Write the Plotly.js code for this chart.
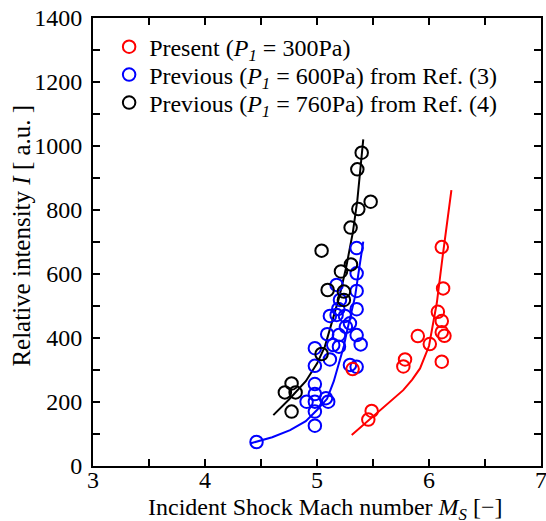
<!DOCTYPE html>
<html>
<head>
<meta charset="utf-8">
<script src="https://cdn.plot.ly/plotly-3.0.1.min.js"></script>
<style>html,body{margin:0;padding:0;background:#fff;}#chart{width:546px;height:521px;}</style>
</head>
<body>
<div id="chart"></div>
<script>
// Present (P1 = 300 Pa) — red
const redX = [6.079, 6.114, 5.900, 6.114, 6.138, 6.007, 5.786, 5.771, 6.114, 5.488, 5.458, 6.114, 6.126, 5.318];
const redY = [482, 453, 406, 418, 407, 381, 333, 311, 326, 172, 145, 684, 555, 303];
const redFitX = [5.31, 5.45, 5.60, 5.77, 5.85, 5.92, 6.00, 6.07, 6.12, 6.20];
const redFitY = [97, 140, 185, 237, 270, 305, 375, 510, 650, 862];

// Previous (P1 = 600 Pa) from Ref. (3) — blue
const blueX = [5.354, 5.175, 5.354, 5.354, 5.205, 5.190, 5.354, 5.115, 5.175, 5.250, 5.294, 5.258,
               5.091, 5.196, 5.354, 5.145, 5.196, 5.390, 4.981, 4.981, 5.115, 5.294, 5.354, 4.981,
               4.981, 4.907, 4.981, 5.100, 5.080, 4.981, 4.981, 4.460];
const blueY = [681, 566, 602, 547, 519, 491, 490, 469, 472, 469, 446, 435,
               412, 409, 409, 378, 373, 380, 368, 313, 333, 316, 310, 256,
               225, 201, 201, 201, 212, 170, 126, 75];
const blueFitX = [4.41, 4.60, 4.76, 4.90, 5.00, 5.09, 5.15, 5.20, 5.24, 5.27, 5.34, 5.38, 5.413];
const blueFitY = [71, 90, 112, 140, 175, 210, 265, 330, 375, 425, 530, 625, 701];

// Previous (P1 = 760 Pa) from Ref. (4) — black
const blackX = [5.399, 5.360, 5.479, 5.369, 5.300, 5.041, 5.303, 5.214, 5.095, 5.240, 5.240,
                5.041, 4.773, 4.713, 4.809, 4.773];
const blackY = [979, 927, 826, 803, 745, 673, 630, 608, 550, 545, 519,
                350, 258, 230, 230, 170];
const blackFitX = [4.61, 4.75, 4.90, 5.00, 5.07, 5.13, 5.20, 5.26, 5.32, 5.36, 5.39, 5.413];
const blackFitY = [159, 208, 265, 320, 373, 446, 530, 620, 730, 830, 930, 1021];

const xTicks = [3, 4, 5, 6, 7];
const yTicks = [0, 200, 400, 600, 800, 1000, 1200, 1400];

const legendNames = [
  'Present (<i>P<sub>1</sub></i> = 300Pa)',
  'Previous (<i>P<sub>1</sub></i> = 600Pa) from Ref. (3)',
  'Previous (<i>P<sub>1</sub></i> = 760Pa) from Ref. (4)'
];

const FONT = '"Liberation Serif"';
const mk = (c) => ({symbol: 'circle-open', size: 12.5, color: c, line: {color: c, width: 2}});

const traces = [
  {x: redFitX, y: redFitY, mode: 'lines', line: {color: '#ff0000', width: 2}, showlegend: false, hoverinfo: 'skip'},
  {x: blueFitX, y: blueFitY, mode: 'lines', line: {color: '#0000ff', width: 2}, showlegend: false, hoverinfo: 'skip'},
  {x: blackFitX, y: blackFitY, mode: 'lines', line: {color: '#000000', width: 2}, showlegend: false, hoverinfo: 'skip'},
  {x: blueX, y: blueY, mode: 'markers', marker: mk('#0000ff'), name: legendNames[1], legend: 'legend2'},
  {x: blackX, y: blackY, mode: 'markers', marker: mk('#000000'), name: legendNames[2], legend: 'legend3'},
  {x: redX, y: redY, mode: 'markers', marker: mk('#ff0000'), name: legendNames[0], legend: 'legend'}
];

const axisCommon = {
  showgrid: false, zeroline: false, showline: true, linecolor: '#000', linewidth: 2,
  mirror: 'allticks', ticks: 'inside', ticklen: 7, tickwidth: 1.5, tickcolor: '#000',
  ticklabeloverflow: 'allow',
  tickfont: {family: FONT, size: 24, color: '#000'}
};

const legendBase = (yc) => ({
  x: 0.036, y: yc, xanchor: 'left', yanchor: 'middle',
  bgcolor: 'rgba(0,0,0,0)', borderwidth: 0,
  font: {family: FONT, size: 24, color: '#000'}
});

const layout = {
  width: 546, height: 521,
  margin: {l: 93, r: 5, t: 18, b: 55},
  paper_bgcolor: '#fff', plot_bgcolor: '#fff',
  font: {family: FONT, size: 24, color: '#000'},
  xaxis: Object.assign({}, axisCommon, {
    range: [3, 7], tickvals: xTicks, ticktext: xTicks.map(String),
    minor: {dtick: 0.5, ticks: 'inside', ticklen: 7, tickwidth: 1.5, tickcolor: '#000', showgrid: false},
    ticklabelstandoff: -9
  }),
  yaxis: Object.assign({}, axisCommon, {
    range: [0, 1400], tickvals: yTicks, ticktext: yTicks.map(String),
    minor: {dtick: 100, ticks: 'inside', ticklen: 7, tickwidth: 1.5, tickcolor: '#000', showgrid: false},
    ticklabelstandoff: 4
  }),
  legend: legendBase(0.935),
  legend2: legendBase(0.8728),
  legend3: legendBase(0.8103),
  annotations: [{
    text: 'Relative intensity <i>I</i> [ a.u. ]', textangle: -90,
    xref: 'paper', yref: 'paper', x: -0.16, y: 0.515, xanchor: 'center', yanchor: 'middle',
    showarrow: false, font: {family: FONT, size: 25, color: '#000'}
  }, {
    text: 'Incident Shock Mach number <i>M<sub>S</sub></i> [−]',
    xref: 'paper', yref: 'paper', x: 0.52, y: -0.096, xanchor: 'center', yanchor: 'middle',
    showarrow: false, font: {family: FONT, size: 24, color: '#000'}
  }]
};

Plotly.newPlot('chart', traces, layout, {displayModeBar: false, staticPlot: true});
</script>
</body>
</html>
